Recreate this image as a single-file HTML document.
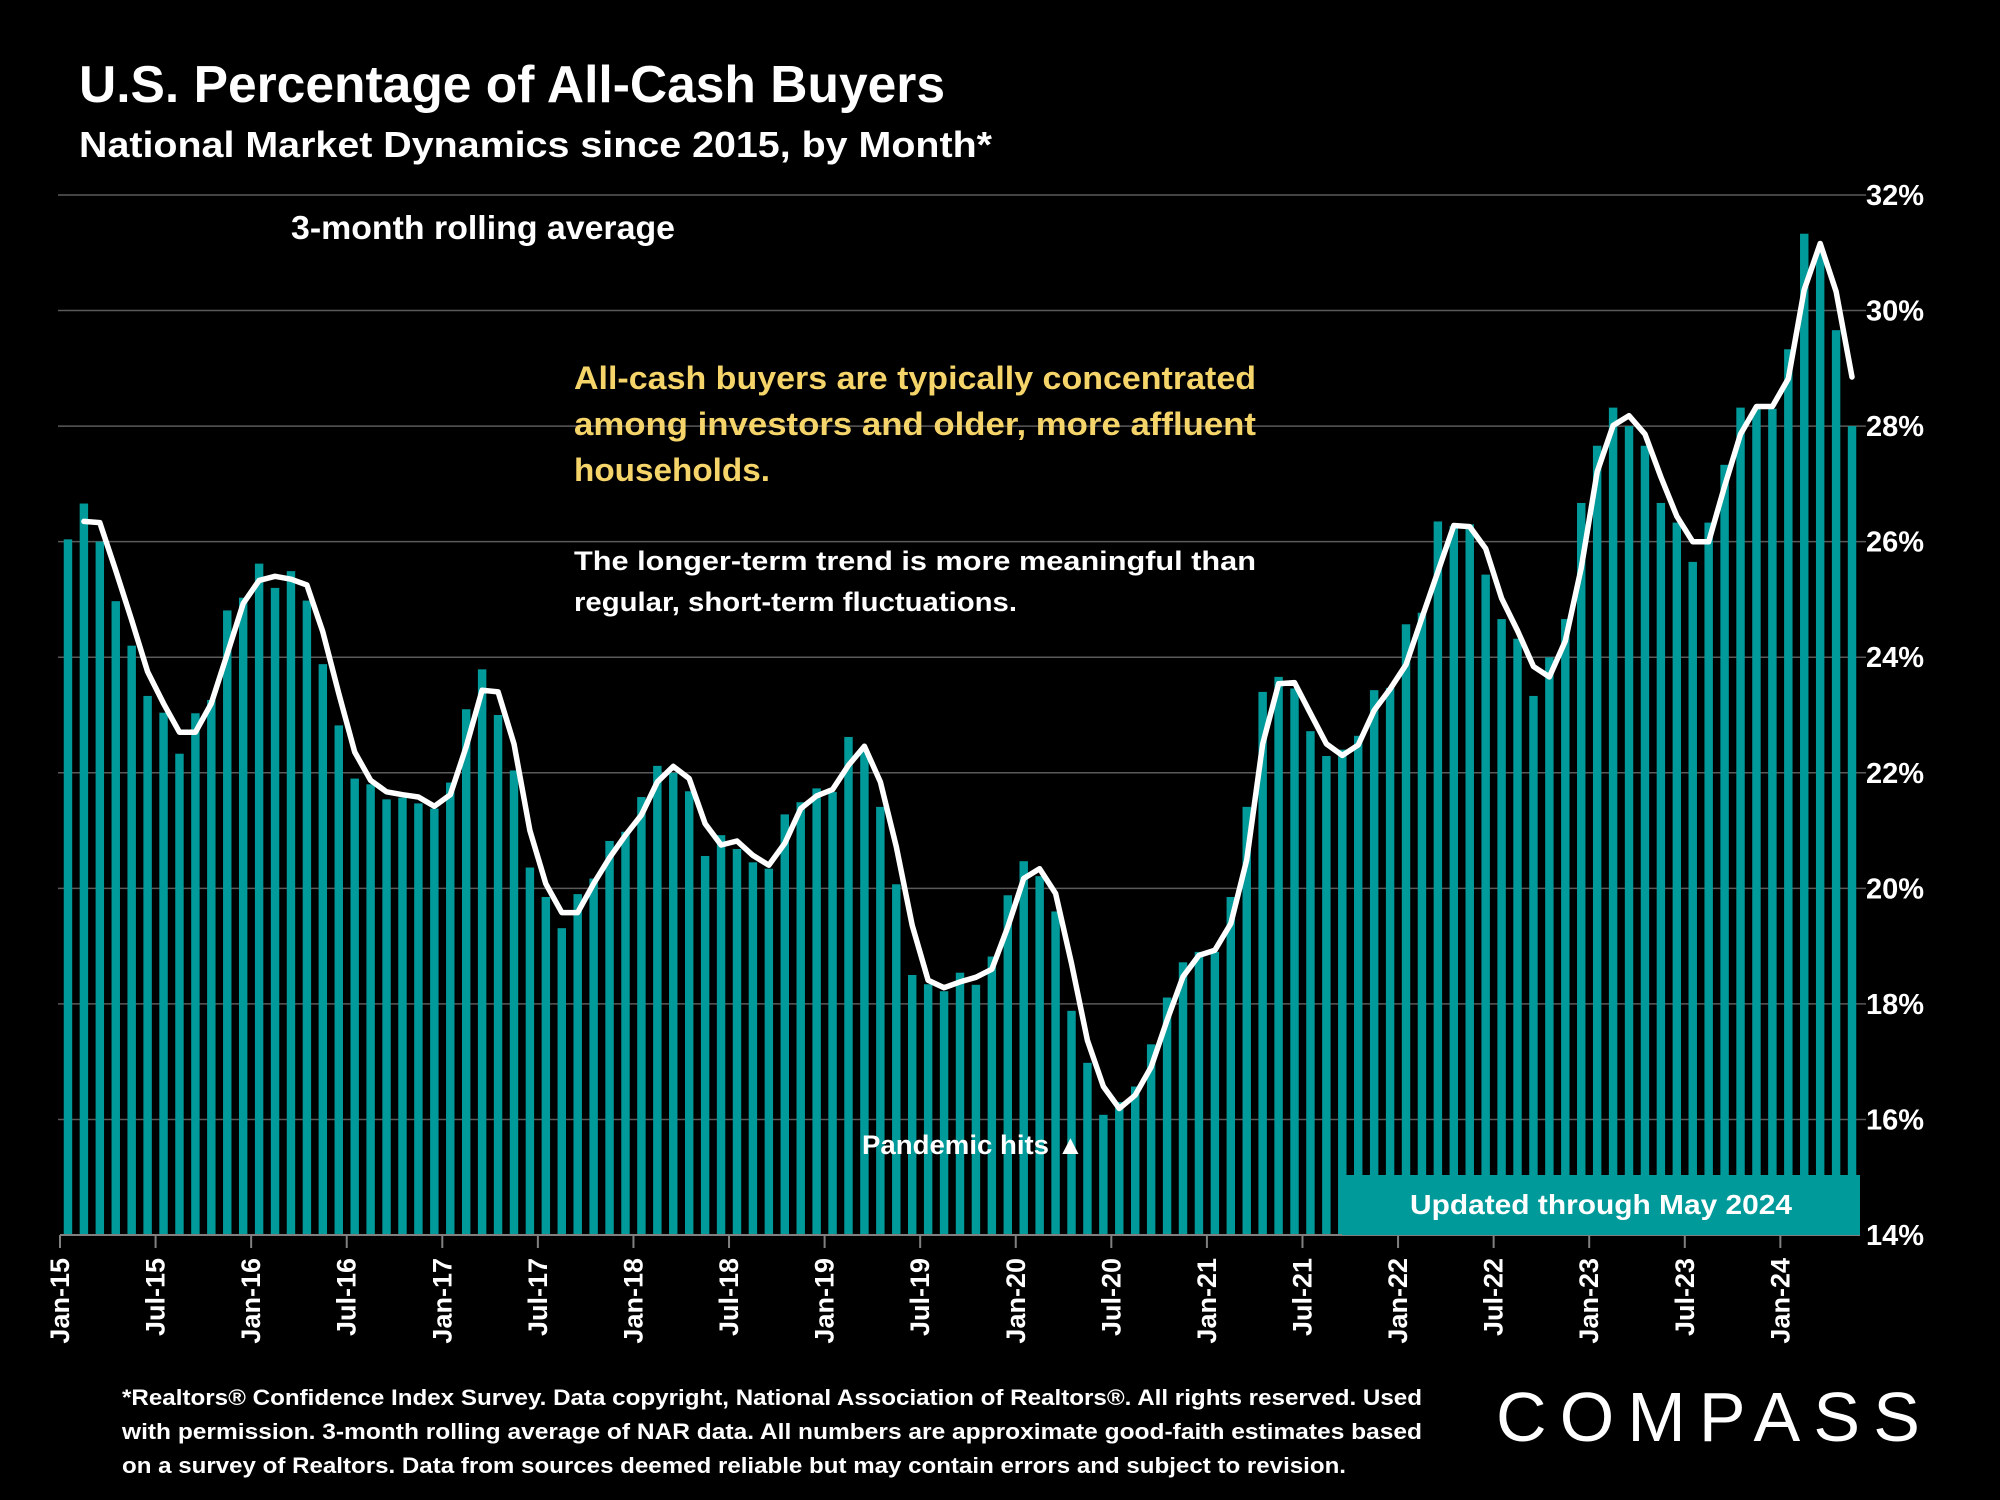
<!DOCTYPE html>
<html><head><meta charset="utf-8"><style>
html,body{margin:0;padding:0;background:#000;}
svg{display:block;font-family:"Liberation Sans",sans-serif;}
</style></head><body>
<svg id="chart" width="2000" height="1500" viewBox="0 0 2000 1500" xmlns="http://www.w3.org/2000/svg">
<rect x="0" y="0" width="2000" height="1500" fill="#000"/>
<text x="79" y="102" font-size="52" font-weight="bold" fill="#fff" textLength="866" lengthAdjust="spacingAndGlyphs">U.S. Percentage of All-Cash Buyers</text>
<text x="79" y="157" font-size="36" font-weight="bold" fill="#fff" textLength="913" lengthAdjust="spacingAndGlyphs">National Market Dynamics since 2015, by Month*</text>
<g id="grid"></g>
<g id="bars"></g>
<g id="line"></g>
<g id="axes"></g>
<text x="291" y="239" font-size="33" font-weight="bold" fill="#fff" textLength="384" lengthAdjust="spacingAndGlyphs">3-month rolling average</text>
<g font-size="32" font-weight="bold" fill="#f5d46a">
<text x="574" y="389" textLength="682" lengthAdjust="spacingAndGlyphs">All-cash buyers are typically concentrated</text>
<text x="574" y="435" textLength="682" lengthAdjust="spacingAndGlyphs">among investors and older, more affluent</text>
<text x="574" y="481" textLength="196" lengthAdjust="spacingAndGlyphs">households.</text>
</g>
<g font-size="27" font-weight="bold" fill="#fff">
<text x="574" y="570" textLength="682" lengthAdjust="spacingAndGlyphs">The longer-term trend is more meaningful than</text>
<text x="574" y="611" textLength="443" lengthAdjust="spacingAndGlyphs">regular, short-term fluctuations.</text>
</g>
<text x="862" y="1154" font-size="27" font-weight="bold" fill="#fff" textLength="222" lengthAdjust="spacingAndGlyphs">Pandemic hits ▲</text>
<rect x="1342" y="1175" width="518" height="60" fill="#009a9a"/>
<text x="1601" y="1214" font-size="28" font-weight="bold" fill="#fff" text-anchor="middle" textLength="382" lengthAdjust="spacingAndGlyphs">Updated through May 2024</text>
<g font-size="22" font-weight="bold" fill="#fff">
<text x="122" y="1405" textLength="1300" lengthAdjust="spacingAndGlyphs">*Realtors® Confidence Index Survey. Data copyright, National Association of Realtors®. All rights reserved. Used</text>
<text x="122" y="1439" textLength="1300" lengthAdjust="spacingAndGlyphs">with permission. 3-month rolling average of NAR data. All numbers are approximate good-faith estimates based</text>
<text x="122" y="1473" textLength="1224" lengthAdjust="spacingAndGlyphs">on a survey of Realtors. Data from sources deemed reliable but may contain errors and subject to revision.</text>
</g>
<text x="1496" y="1441" font-size="70" fill="#fff" textLength="424" lengthAdjust="spacing">COMPASS</text>
</svg>
<script>
const months = ["Jan-15","Feb-15","Mar-15","Apr-15","May-15","Jun-15","Jul-15","Aug-15","Sep-15","Oct-15","Nov-15","Dec-15","Jan-16","Feb-16","Mar-16","Apr-16","May-16","Jun-16","Jul-16","Aug-16","Sep-16","Oct-16","Nov-16","Dec-16","Jan-17","Feb-17","Mar-17","Apr-17","May-17","Jun-17","Jul-17","Aug-17","Sep-17","Oct-17","Nov-17","Dec-17","Jan-18","Feb-18","Mar-18","Apr-18","May-18","Jun-18","Jul-18","Aug-18","Sep-18","Oct-18","Nov-18","Dec-18","Jan-19","Feb-19","Mar-19","Apr-19","May-19","Jun-19","Jul-19","Aug-19","Sep-19","Oct-19","Nov-19","Dec-19","Jan-20","Feb-20","Mar-20","Apr-20","May-20","Jun-20","Jul-20","Aug-20","Sep-20","Oct-20","Nov-20","Dec-20","Jan-21","Feb-21","Mar-21","Apr-21","May-21","Jun-21","Jul-21","Aug-21","Sep-21","Oct-21","Nov-21","Dec-21","Jan-22","Feb-22","Mar-22","Apr-22","May-22","Jun-22","Jul-22","Aug-22","Sep-22","Oct-22","Nov-22","Dec-22","Jan-23","Feb-23","Mar-23","Apr-23","May-23","Jun-23","Jul-23","Aug-23","Sep-23","Oct-23","Nov-23","Dec-23","Jan-24","Feb-24","Mar-24","Apr-24","May-24"];
const monthlyPct = [26.04,26.66,26.0,24.97,24.2,23.33,23.04,22.33,23.03,23.26,24.81,25.03,25.62,25.2,25.49,24.98,23.88,22.82,21.9,21.8,21.54,21.57,21.47,21.38,21.83,23.1,23.79,23.0,22.04,20.36,19.85,19.31,19.9,20.17,20.82,20.98,21.58,22.12,22.0,21.68,20.56,20.92,20.68,20.45,20.34,21.28,21.49,21.73,21.67,22.62,22.37,21.41,20.07,18.5,18.34,18.22,18.54,18.33,18.82,19.88,20.47,20.21,19.6,17.88,16.98,16.08,16.3,16.57,17.3,18.11,18.72,18.9,18.9,19.85,21.41,23.4,23.66,23.46,22.72,22.29,22.4,22.64,23.43,23.47,24.57,24.77,26.35,26.27,26.3,25.43,24.66,24.32,23.33,24.0,24.66,26.67,27.66,28.32,28.0,27.66,26.67,26.33,25.65,26.33,27.33,28.32,28.3,28.3,29.33,31.33,31.0,29.66,28.0];
const lineStartIndex = 1;
const rollingAvg = [26.35,26.33,25.5,24.64,23.75,23.2,22.7,22.7,23.2,24.06,24.93,25.33,25.4,25.35,25.25,24.44,23.37,22.36,21.87,21.67,21.62,21.58,21.42,21.62,22.45,23.43,23.4,22.5,21.0,20.08,19.58,19.58,20.08,20.53,20.92,21.27,21.84,22.11,21.9,21.12,20.75,20.82,20.57,20.4,20.78,21.38,21.6,21.71,22.13,22.46,21.84,20.72,19.36,18.41,18.28,18.38,18.46,18.6,19.33,20.17,20.34,19.91,18.7,17.37,16.57,16.19,16.42,16.91,17.72,18.47,18.84,18.93,19.39,20.49,22.5,23.54,23.56,23.03,22.5,22.3,22.48,23.08,23.45,23.87,24.68,25.48,26.28,26.26,25.88,25.02,24.46,23.84,23.66,24.28,25.54,27.21,28.01,28.18,27.86,27.12,26.44,26.0,26.0,26.96,27.86,28.34,28.34,28.82,30.36,31.16,30.33,28.85];
const yTicks = [14,16,18,20,22,24,26,28,30,32];
const yTickLabels = ["14%","16%","18%","20%","22%","24%","26%","28%","30%","32%"];
const xTickLabels = ["Jan-15","Jul-15","Jan-16","Jul-16","Jan-17","Jul-17","Jan-18","Jul-18","Jan-19","Jul-19","Jan-20","Jul-20","Jan-21","Jul-21","Jan-22","Jul-22","Jan-23","Jul-23","Jan-24"];

const NS = "http://www.w3.org/2000/svg";
const X0 = 60, X1 = 1860, Y0 = 1235, Y1 = 195, YMIN = 14, YMAX = 32;
const band = (X1 - X0) / months.length;
function xLeft(i){ return X0 + i * band; }
function xCenter(i){ return X0 + (i + 0.5) * band; }
function yScale(v){ return Y0 - (v - YMIN) / (YMAX - YMIN) * (Y0 - Y1); }
function mk(tag, attrs, parent){ const e = document.createElementNS(NS, tag); for (const k in attrs) e.setAttribute(k, attrs[k]); parent.appendChild(e); return e; }

const grid = document.getElementById('grid');
const axes = document.getElementById('axes');
yTicks.forEach((t, k) => {
  if (t !== YMIN) {
    const gl = mk('line', {x1: X0 - 2, x2: 1866, y1: yScale(t), y2: yScale(t), stroke: '#5a5a5a', 'stroke-width': 1.5}, grid);
    
    
  }
  const lb = mk('text', {x: 1866, y: yScale(t) + 10, 'font-size': 29, 'font-weight': 'bold', fill: '#fff'}, axes);
  lb.textContent = yTickLabels[k];
  
  
});

const barsG = document.getElementById('bars');
const bw = band * 0.53;
monthlyPct.forEach((v, i) => {
  const y = yScale(v);
  const r = mk('rect', {x: xCenter(i) - bw / 2, y: y, width: bw, height: Y0 - y, fill: '#009a9a'}, barsG);
  
  
});

const pts = rollingAvg.map((v, k) => xCenter(k + lineStartIndex).toFixed(1) + ',' + yScale(v).toFixed(1)).join(' ');
const pl = mk('polyline', {points: pts, fill: 'none', stroke: '#fff', 'stroke-width': 5.5, 'stroke-linejoin': 'round', 'stroke-linecap': 'round'}, document.getElementById('line'));



const ax = mk('line', {x1: X0, x2: X1, y1: Y0, y2: Y0, stroke: '#808080', 'stroke-width': 2}, axes);


xTickLabels.forEach((lab) => {
  const i = months.indexOf(lab);
  const x = xLeft(i);
  const tk = mk('line', {x1: x, x2: x, y1: Y0, y2: Y0 + 13, stroke: '#808080', 'stroke-width': 2}, axes);
  
  
  const t = mk('text', {x: 0, y: 0, 'font-size': 27, 'font-weight': 'bold', fill: '#fff', 'text-anchor': 'end', transform: 'translate(' + (x + 9) + ',1258) rotate(-90)'}, axes);
  t.textContent = lab;
  
  
});
</script>
</body></html>
